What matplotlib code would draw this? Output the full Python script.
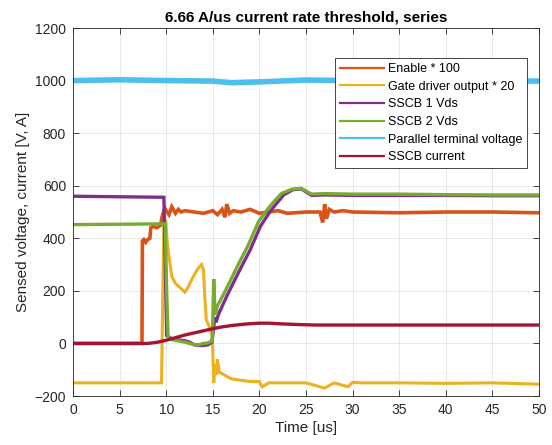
import matplotlib
matplotlib.use("Agg")
import matplotlib.pyplot as plt

plt.rcParams['font.family'] = ['Liberation Sans', 'DejaVu Sans']

# ---------------- data ----------------
enable_t = [0, 7.40, 7.45, 7.6, 7.8, 8.0, 8.25, 8.35, 8.6, 9.0, 9.4, 9.55, 9.7, 9.85, 10.0,
            10.3, 10.6, 11.0, 11.3, 11.6, 12, 13, 14, 15, 15.5, 16, 16.3, 16.5, 16.8, 17.2,
            18, 19, 20, 21, 22, 23, 25, 26.5, 26.8, 27.0, 27.2, 27.5, 28, 29, 30, 35, 40, 45, 50]
enable_v = [0, 0, 390, 395, 385, 395, 400, 440, 445, 440, 450, 480, 500, 515, 505,
            490, 520, 495, 510, 500, 505, 500, 495, 505, 490, 510, 480, 530, 495, 505,
            500, 510, 495, 500, 505, 495, 500, 500, 460, 530, 475, 510, 500, 505, 500, 497, 500, 500, 497]

gate_t = [0, 9.5, 9.6, 9.75, 9.95, 10.1, 10.3, 10.6, 11.0, 11.4, 11.7, 12.0, 12.3, 12.7, 13.0,
          13.4, 13.8, 14.0, 14.15, 14.3, 14.6, 14.95, 15.1, 15.2, 15.35, 15.5, 15.7, 16.0, 16.5,
          17, 18, 19, 20, 20.3, 21, 22, 25, 26, 27, 28, 29.5, 30, 31, 35, 40, 45, 50]
gate_v = [-150, -150, 100, 450, 470, 390, 330, 255, 228, 215, 205, 195, 210, 240, 260,
          285, 300, 280, 170, 90, 65, 30, -150, -80, -120, -60, -110, -115, -125,
          -135, -140, -145, -145, -165, -150, -150, -150, -160, -170, -150, -165, -148, -150, -150, -152, -150, -155]

sscb1_t = [0, 9.75, 9.9, 10.05, 10.5, 11, 12, 12.5, 13, 13.5, 14, 14.5, 14.9, 15.1, 15.2,
           15.35, 15.6, 16.5, 17.9, 19.0, 20.1, 21.1, 21.9, 22.6, 23.6, 24.5, 25.6, 27, 30, 35, 40, 45, 50]
sscb1_v = [560, 556, 300, 30, 20, 15, 10, 5, -5, -8, -8, -5, 5, 60, 100,
           80, 110, 180, 280, 355, 445, 500, 535, 565, 585, 588, 563, 565, 563, 563, 563, 562, 562]

sscb2_t = [0, 9.9, 10.05, 10.2, 10.5, 11, 12, 12.5, 13, 13.5, 14, 14.5, 14.95, 15.1, 15.2,
           15.3, 15.45, 16.3, 17.7, 18.8, 19.9, 20.95, 21.7, 22.4, 23.5, 24.5, 25.6, 27, 30, 35, 40, 45, 50]
sscb2_v = [452, 455, 200, 25, 15, 12, 5, 0, -5, -5, 0, 2, 10, 245, 150,
           108, 140, 197, 298, 374, 463, 514, 545, 571, 587, 590, 568, 570, 568, 568, 566, 565, 565]

par_t = [0, 5, 10, 15, 17, 20, 25, 30, 35, 40, 45, 50]
par_v = [1000, 1003, 1000, 998, 992, 995, 1002, 1000, 1000, 1002, 1000, 998]

cur_t = [0, 8, 9, 10, 11, 12, 13, 14, 15, 16, 17, 18, 19, 20, 21, 22, 24, 26, 30, 50]
cur_v = [0, 0, 4, 12, 22, 32, 40, 48, 56, 63, 68, 72, 75, 77, 77, 75, 72, 70, 70, 70]

labels = ["Enable * 100", "Gate driver output * 20", "SSCB 1 Vds", "SSCB 2 Vds",
          "Parallel terminal voltage", "SSCB current"]
colors = ["#D95319", "#EDB120", "#7E2F8E", "#77AC30", "#4DBEEE", "#A2142F"]

x_ticks = [0, 5, 10, 15, 20, 25, 30, 35, 40, 45, 50]
y_ticks = [-200, 0, 200, 400, 600, 800, 1000, 1200]

# ---------------- figure ----------------
fig = plt.figure(figsize=(5.52, 4.45), dpi=100)
ax = fig.add_axes([73/552, 49/445, 466/552, 368/445])

series = [(enable_t, enable_v), (gate_t, gate_v), (sscb1_t, sscb1_v),
          (sscb2_t, sscb2_v), (par_t, par_v), (cur_t, cur_v)]
widths = [2.6, 2.2, 2.4, 2.4, 4.0, 2.4]
for (t, v), lab, c, w in zip(series, labels, colors, widths):
    ax.plot(t, v, color=c, lw=w, label=lab, solid_joinstyle='miter')

ax.set_xlim(0, 50)
ax.set_ylim(-200, 1200)
ax.set_xticks(x_ticks)
ax.set_yticks(y_ticks)
ax.grid(True, color="#262626", alpha=0.12, lw=0.6)
ax.set_axisbelow(True)

axc = "#262626"
for s in ax.spines.values():
    s.set_color(axc)
    s.set_linewidth(0.6)
ax.tick_params(direction='in', length=4, width=0.6, colors=axc, labelsize=10,
               top=True, right=True, pad=5)

ax.set_title("6.66 A/us current rate threshold, series", fontsize=11,
             fontweight='bold', color='black', pad=5)
ax.set_xlabel("Time [us]", fontsize=11, color=axc, labelpad=3)
ax.set_ylabel("Sensed voltage, current [V, A]", fontsize=11, color=axc, labelpad=3)

leg = ax.legend(loc='upper right', bbox_to_anchor=(0.974, 0.918), borderaxespad=0,
                fontsize=9, frameon=True, fancybox=False, framealpha=1,
                edgecolor=axc, handlelength=3.5, handletextpad=0.3,
                labelspacing=0.45, borderpad=0.4)
leg.get_frame().set_linewidth(0.6)
for h in leg.get_lines():
    h.set_linewidth(1.6)

fig.savefig("out.png", dpi=100)
